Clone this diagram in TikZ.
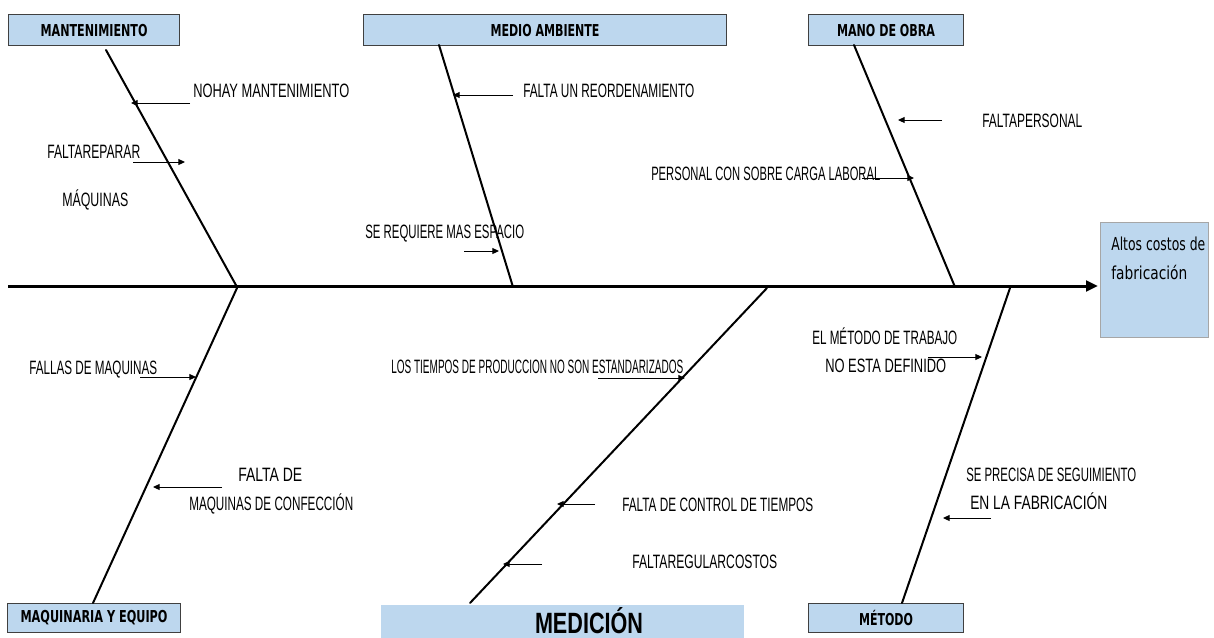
\documentclass[tikz,border=0pt]{standalone}
\usepackage{fontspec}
\usepackage{graphicx}
\setmainfont{Liberation Sans}
\newfontfamily\boxfont{DejaVu Sans}
\usetikzlibrary{arrows.meta}
\newlength\pxu
\setlength\pxu{0.75pt}
\newcommand\fitw[2]{\resizebox{#1\pxu}{\height}{#2}}
\newcommand\lblf{\fontsize{14.5}{16}\selectfont}
\newcommand\ttlf{\boxfont\bfseries\fontsize{12.3}{14}\selectfont}
\definecolor{boxblue}{HTML}{BDD7EE}
\definecolor{boxedge}{HTML}{404040}
\definecolor{resedge}{HTML}{A6A6A6}
\tikzset{
  catbox/.style={draw=boxedge, line width=0.8pt, fill=boxblue, inner sep=0pt},
  lbl/.style={anchor=base west, inner sep=0pt, font=\lblf},
  bone/.style={line width=1.5pt, line cap=round},
  spine/.style={line width=2.25pt, -{Triangle[length=9pt,width=8pt]}},
  small/.style={line width=0.75pt, -{Triangle[length=5pt,width=4.5pt]}},
}
\begin{document}
\begin{tikzpicture}[x=0.75pt,y=-0.75pt]
\useasboundingbox (0,0) rectangle (1214,637);
% category boxes
\node[catbox, minimum width=171\pxu, minimum height=31\pxu, anchor=north west] (mant) at (8,14) {\ttlf\fitw{107}{MANTENIMIENTO}};
\node[catbox, minimum width=363\pxu, minimum height=31\pxu, anchor=north west] (medio) at (363,14) {\ttlf\fitw{109}{MEDIO AMBIENTE}};
\node[catbox, minimum width=155\pxu, minimum height=31\pxu, anchor=north west] (mano) at (808,14) {\ttlf\fitw{98}{MANO DE OBRA}};
\node[catbox, minimum width=173\pxu, minimum height=29\pxu, anchor=north west] (maq) at (7,603) {\ttlf\fitw{147}{MAQUINARIA Y EQUIPO}};
\node[catbox, minimum width=155\pxu, minimum height=29\pxu, anchor=north west] (met) at (808,603) {\ttlf\fitw{54}{MÉTODO}};
\node[fill=boxblue, inner sep=0pt, minimum width=363\pxu, minimum height=40\pxu, anchor=north west] (medic) at (381,605) {};
\node[anchor=base, inner sep=0pt, font=\bfseries\fontsize{22}{25}\selectfont] (medict) at (589,633) {\fitw{108}{MEDICIÓN}};
% result box
\node[draw=resedge, line width=1pt, fill=boxblue, minimum width=108\pxu, minimum height=115\pxu, anchor=north west] (res) at (1100,222) {};
\node[anchor=base west, inner sep=0pt, font=\boxfont\fontsize{13.4}{15}\selectfont] (res1) at (1111,250) {\fitw{94}{Altos costos de}};
\node[anchor=base west, inner sep=0pt, font=\boxfont\fontsize{13.4}{15}\selectfont] (res2) at (1111,279) {\fitw{76}{fabricación}};
% spine
\coordinate (s0) at (8,286);
\coordinate (s1) at (1098,286);
\draw[spine] (s0) -- (s1);
% bones
\coordinate (b1a) at (106,50);  \coordinate (b1b) at (237,287);
\coordinate (b2a) at (439,45);  \coordinate (b2b) at (513,287);
\coordinate (b3a) at (854,45);  \coordinate (b3b) at (955,287);
\coordinate (b4a) at (93,603);  \coordinate (b4b) at (237,288);
\coordinate (b5a) at (470,603); \coordinate (b5b) at (767,288);
\coordinate (b6a) at (902,603); \coordinate (b6b) at (1010,288);
\draw[bone] (b1a) -- (b1b);
\draw[bone] (b2a) -- (b2b);
\draw[bone] (b3a) -- (b3b);
\draw[bone] (b4a) -- (b4b);
\draw[bone] (b5a) -- (b5b);
\draw[bone] (b6a) -- (b6b);
% labels
\node[lbl] (t1) at (193,97) {\fitw{156}{NOHAY MANTENIMIENTO}};
\node[lbl] (t2) at (47,158) {\fitw{93}{FALTAREPARAR}};
\node[lbl] (t3) at (62,206) {\fitw{66}{MÁQUINAS}};
\node[lbl] (t4) at (523,97) {\fitw{171}{FALTA UN REORDENAMIENTO}};
\node[lbl] (t5) at (365,238) {\fitw{159}{SE REQUIERE MAS ESPACIO}};
\node[lbl] (t6) at (982,127) {\fitw{100}{FALTAPERSONAL}};
\node[lbl] (t7) at (651,180) {\fitw{229}{PERSONAL CON SOBRE CARGA LABORAL}};
\node[lbl] (t8) at (29,374) {\fitw{128}{FALLAS DE MAQUINAS}};
\node[lbl] (t9) at (238,481) {\fitw{64}{FALTA DE}};
\node[lbl] (t10) at (189,510) {\fitw{164}{MAQUINAS DE CONFECCIÓN}};
\node[lbl] (t11) at (391,373) {\fitw{292}{LOS TIEMPOS DE PRODUCCION NO SON ESTANDARIZADOS}};
\node[lbl] (t12) at (622,511) {\fitw{191}{FALTA DE CONTROL DE TIEMPOS}};
\node[lbl] (t13) at (632,568) {\fitw{145}{FALTAREGULARCOSTOS}};
\node[lbl] (t14) at (812,344) {\fitw{145}{EL MÉTODO DE TRABAJO}};
\node[lbl] (t15) at (825,372) {\fitw{121}{NO ESTA DEFINIDO}};
\node[lbl] (t16) at (966,481) {\fitw{170}{SE PRECISA DE SEGUIMIENTO}};
\node[lbl] (t17) at (970,509) {\fitw{137}{EN LA FABRICACIÓN}};
% small arrows
\coordinate (a1s) at (190,103); \coordinate (a1e) at (131,103);
\coordinate (a2s) at (133,162); \coordinate (a2e) at (185,162);
\coordinate (a3s) at (513,95);  \coordinate (a3e) at (453,95);
\coordinate (a4s) at (464,251); \coordinate (a4e) at (499,251);
\coordinate (a5s) at (942,120); \coordinate (a5e) at (898,120);
\coordinate (a6s) at (862,178); \coordinate (a6e) at (914,178);
\coordinate (a7s) at (140,377); \coordinate (a7e) at (196,377);
\coordinate (a8s) at (222,487); \coordinate (a8e) at (153,487);
\coordinate (a9s) at (598,378); \coordinate (a9e) at (685,378);
\coordinate (a10s) at (595,504); \coordinate (a10e) at (557,504);
\coordinate (a11s) at (542,564); \coordinate (a11e) at (503,564);
\coordinate (a12s) at (928,357); \coordinate (a12e) at (982,357);
\coordinate (a13s) at (991,518); \coordinate (a13e) at (943,518);
\foreach \i in {1,...,13} { \draw[small] (a\i s) -- (a\i e); }
\end{tikzpicture}
\end{document}
